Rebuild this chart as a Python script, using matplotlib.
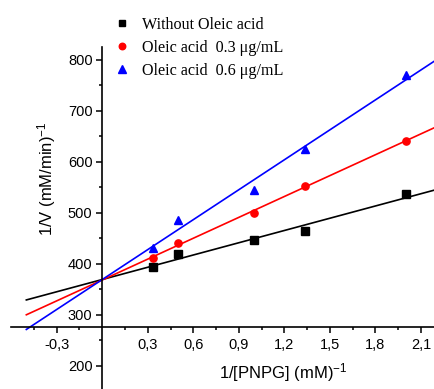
import numpy as np
import matplotlib
matplotlib.use("Agg")
import matplotlib.pyplot as plt
from matplotlib.ticker import MultipleLocator, FixedLocator, FuncFormatter

plt.rcParams['font.family'] = ['Liberation Sans', 'DejaVu Sans']
plt.rcParams['mathtext.fontset'] = 'custom'
plt.rcParams['mathtext.rm'] = 'Liberation Sans'
plt.rcParams['mathtext.it'] = 'Liberation Sans:italic'

# Data
inv_s = [1/3, 0.5, 1.0, 4/3, 2.0]
without = [393, 418.6, 446.6, 465, 536]
oleic_03 = [411, 441, 500, 553, 641]
oleic_06 = [431, 486, 545, 625, 770]
labels = ["Without Oleic acid", "Oleic acid  0.3 \u03bcg/mL", "Oleic acid  0.6 \u03bcg/mL"]
colors = ["black", "red", "blue"]
markers = ["s", "o", "^"]
xticks_major = [-0.3, 0.3, 0.6, 0.9, 1.2, 1.5, 1.8, 2.1]
yticks_major = [200, 300, 400, 500, 600, 700, 800]

W, H = 435, 389
fig = plt.figure(figsize=(W/100, H/100), dpi=100)
ax = fig.add_axes([11/W, 0, (W-11)/W, 1-46.7/H])
ax.set_xlim(-0.601, 2.192)
ax.set_ylim(154, 826)

series = [without, oleic_03, oleic_06]
xfit = np.array([-0.5, 2.3])
handles = []
for ys, c, m, lab in zip(series, colors, markers, labels):
    k, b = np.polyfit(inv_s, ys, 1)
    ax.plot(xfit, k*xfit + b, color=c, lw=1.2, zorder=2)
    ms = 5.2 if m != '^' else 6
    h, = ax.plot(inv_s, ys, linestyle='none', marker=m, color=c, ms=ms, zorder=3, label=lab)
    handles.append(h)

for s in ['top', 'right']:
    ax.spines[s].set_visible(False)
ax.spines['left'].set_position(('data', 0))
ax.spines['bottom'].set_position(('data', 275))
for s in ['left', 'bottom']:
    ax.spines[s].set_linewidth(1.2)

ax.xaxis.set_major_locator(FixedLocator(xticks_major))
ax.xaxis.set_minor_locator(FixedLocator([-0.45, -0.15, 0.15, 0.45, 0.75, 1.05, 1.35, 1.65, 1.95]))
ax.yaxis.set_major_locator(FixedLocator(yticks_major))
ax.yaxis.set_minor_locator(MultipleLocator(50))
ax.xaxis.set_major_formatter(FuncFormatter(lambda v, p: f"{v:.1f}".replace('.', ',')))
ax.yaxis.set_major_formatter(FuncFormatter(lambda v, p: f"{v:.0f}"))
ax.tick_params(axis='both', which='major', direction='out', length=4.5, width=1.1, labelsize=10.5, colors='black')
ax.tick_params(axis='both', which='minor', direction='out', length=2.5, width=1.1)
ax.tick_params(axis='x', which='major', pad=3.5)
ax.tick_params(axis='y', which='major', pad=2.5)

fig.text(46.7/W, 1-179/H, "1/V (mM/min)$^{-1}$", rotation=90, ha='center', va='center', fontsize=12)
fig.text(283/W, 1-373/H, "1/[PNPG] (mM)$^{-1}$", ha='center', va='center', fontsize=12)

leg = fig.legend(handles=handles, loc='upper left', bbox_to_anchor=(114/W, 1-17/H),
                 frameon=False, prop={'family': 'Liberation Serif', 'size': 11.6},
                 handlelength=1.0, handletextpad=0.75, labelspacing=0.42, borderpad=0, borderaxespad=0,
                 markerscale=0.9)

fig.savefig("out.png", dpi=100)
